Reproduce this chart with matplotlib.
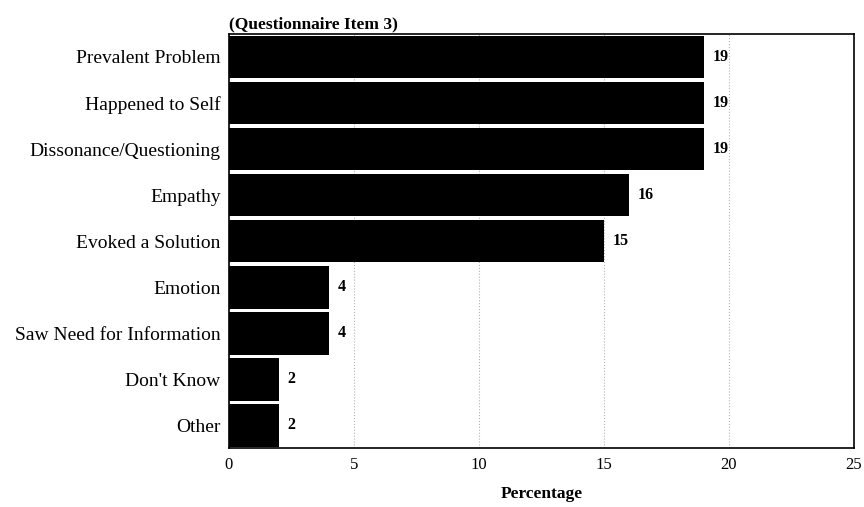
import matplotlib.pyplot as plt

categories = ["Prevalent Problem", "Happened to Self", "Dissonance/Questioning",
              "Empathy", "Evoked a Solution", "Emotion",
              "Saw Need for Information", "Don't Know", "Other"]
values = [19, 19, 19, 16, 15, 4, 4, 2, 2]
xticks = [0, 5, 10, 15, 20, 25]

plt.rcParams['font.family'] = ['Liberation Serif', 'DejaVu Serif']

fig = plt.figure(figsize=(8.64, 5.07), dpi=100)
ax = fig.add_axes([0.265, 0.116, 0.723, 0.817])

y = list(range(len(categories)))
ax.barh(y, values, height=0.93, color='black', zorder=2)
for yi, v in zip(y, values):
    ax.text(v + 0.35, yi, str(v), va='center', ha='left',
            fontsize=11.5, fontweight='bold')

ax.set_ylim(len(categories) - 0.5, -0.5)
ax.set_xlim(0, 25)
ax.set_yticks(y)
ax.set_yticklabels(categories, fontsize=14)
ax.set_xticks(xticks)
ax.set_xticklabels([str(t) for t in xticks], fontsize=12)
ax.tick_params(axis='both', length=0, pad=6)
ax.grid(axis='x', linestyle=':', color='gray', linewidth=0.8, alpha=0.6, zorder=0)
for s in ax.spines.values():
    s.set_linewidth(1.2)

ax.set_xlabel("Percentage", fontsize=12.5, fontweight='bold', labelpad=10)
ax.set_title("(Questionnaire Item 3)", loc='left', fontsize=12.5,
             fontweight='bold', pad=4)

plt.savefig("out.png", dpi=100)
